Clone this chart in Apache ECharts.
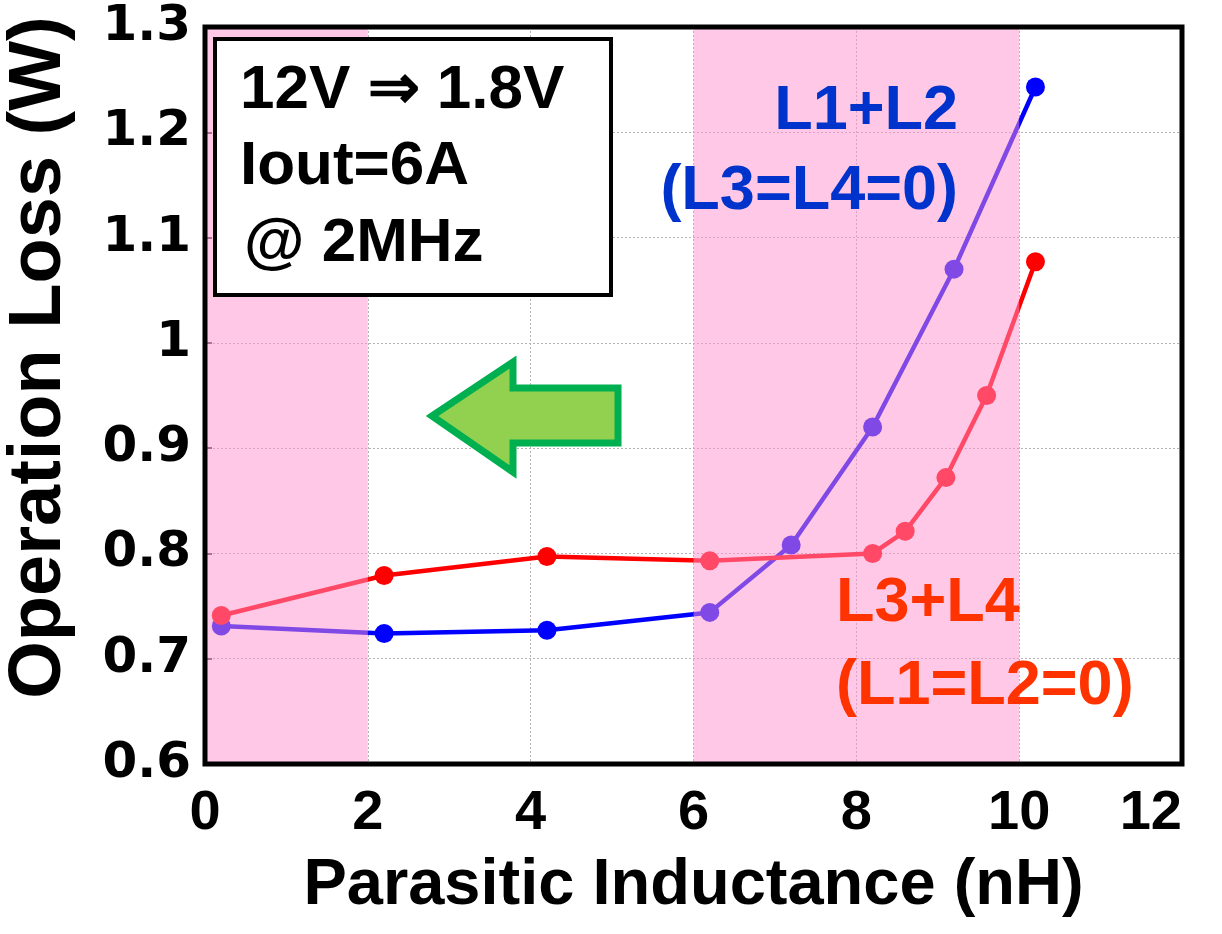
<!DOCTYPE html>
<html>
<head>
<meta charset="utf-8">
<script src="https://cdn.jsdelivr.net/npm/echarts@6/dist/echarts.min.js"></script>
<style>
  html, body { margin: 0; padding: 0; background: #fff; }
  #chart { width: 1222px; height: 934px; }
</style>
</head>
<body>
<div id="chart"></div>
<script>
// parasitic inductance (nH) and operation loss (W)
var xL12 = [0.2, 2.2, 4.2, 6.2, 7.2, 8.2, 9.2, 10.2];
var lossL12 = [0.731, 0.724, 0.727, 0.744, 0.808, 0.920, 1.070, 1.243];
var xL34 = [0.2, 2.2, 4.2, 6.2, 8.2, 8.6, 9.1, 9.6, 10.2];
var lossL34 = [0.741, 0.779, 0.797, 0.793, 0.800, 0.821, 0.872, 0.950, 1.077];

// shaded ranges (nH)
var bandFrom = [0, 6];
var bandTo = [2, 10];

var chart = echarts.init(document.getElementById('chart'));

function pairs(xs, ys) {
  return xs.map(function (x, i) { return [x, ys[i]]; });
}

var bands = bandFrom.map(function (f, i) {
  return [{ xAxis: f }, { xAxis: bandTo[i] }];
});

var bold = 'bold';
var arial = '"Liberation Sans", Arial, sans-serif';

var option = {
  animation: false,
  backgroundColor: '#fff',
  grid: {
    left: 205, right: 40, top: 27, bottom: 170, z: 15,
    outerBoundsMode: 'none', containLabel: false,
    show: true, borderColor: '#000', borderWidth: 5, backgroundColor: 'transparent'
  },
  xAxis: {
    type: 'value', min: 0, max: 12, interval: 2,
    name: 'Parasitic Inductance (nH)',
    nameLocation: 'middle', nameGap: 90,
    nameTextStyle: { fontSize: 65, fontWeight: bold, color: '#000', fontFamily: arial },
    axisLine: { show: false },
    axisTick: { show: false },
    axisLabel: { fontSize: 56, fontWeight: bold, color: '#000', margin: 22,
      fontFamily: arial, alignMaxLabel: 'right' },
    splitLine: { show: true, lineStyle: { color: '#b4b4b4', width: 1, type: [2, 2] } }
  },
  yAxis: {
    type: 'value', min: 0.6, max: 1.3, interval: 0.1,
    name: 'Operation Loss (W)',
    nameLocation: 'middle', nameGap: 128,
    nameTextStyle: { fontSize: 74, fontWeight: bold, color: '#000', fontFamily: arial,
      padding: [0, 0, 0, 76] },
    axisLine: { show: false },
    axisTick: { show: true, inside: true, length: 7, lineStyle: { color: '#555', width: 2 } },
    axisLabel: { fontSize: 50, fontWeight: bold, color: '#000', margin: 14,
      fontFamily: '"DejaVu Sans", sans-serif' },
    splitLine: { show: true, lineStyle: { color: '#b4b4b4', width: 1, type: [2, 2] } }
  },
  series: [
    {
      name: 'L1+L2', type: 'line', z: 2,
      data: pairs(xL12, lossL12),
      symbol: 'circle', symbolSize: 19,
      lineStyle: { color: '#0000ff', width: 4.5 },
      itemStyle: { color: '#0000ff' }
    },
    {
      name: 'L3+L4', type: 'line', z: 2,
      data: pairs(xL34, lossL34),
      symbol: 'circle', symbolSize: 19,
      lineStyle: { color: '#ff0000', width: 4.5 },
      itemStyle: { color: '#ff0000' }
    },
    {
      name: 'bands', type: 'line', data: [], silent: true,
      markArea: {
        z: 10, silent: true,
        itemStyle: { color: 'rgba(255,145,205,0.5)' },
        data: bands
      }
    }
  ],
  graphic: [
    {
      type: 'rect', z: 20,
      shape: { x: 215, y: 39, width: 396, height: 256 },
      style: { fill: '#fff', stroke: '#000', lineWidth: 4 }
    },
    { type: 'text', z: 21, x: 240, y: 91,
      style: { text: '12V \u21D2 1.8V', fontSize: 62, fontWeight: bold, fontFamily: arial,
        fill: '#000', verticalAlign: 'middle' } },
    { type: 'text', z: 21, x: 240, y: 167,
      style: { text: 'Iout=6A', fontSize: 62, fontWeight: bold, fontFamily: arial,
        fill: '#000', verticalAlign: 'middle' } },
    { type: 'text', z: 21, x: 244, y: 244,
      style: { text: '@ 2MHz', fontSize: 62, fontWeight: bold, fontFamily: arial,
        fill: '#000', verticalAlign: 'middle' } },
    {
      type: 'polygon', z: 20,
      shape: { points: [[432, 416], [513, 362], [513, 388], [618, 388], [618, 443], [513, 443], [513, 472]] },
      style: { fill: '#92d050', stroke: '#00b050', lineWidth: 7, lineJoin: 'miter' }
    },
    { type: 'text', z: 21, x: 958, y: 112,
      style: { text: 'L1+L2', fontSize: 63, fontWeight: bold, fontFamily: arial,
        fill: '#0033cc', align: 'right', verticalAlign: 'middle' } },
    { type: 'text', z: 21, x: 958, y: 192,
      style: { text: '(L3=L4=0)', fontSize: 63, fontWeight: bold, fontFamily: arial,
        fill: '#0033cc', align: 'right', verticalAlign: 'middle' } },
    { type: 'text', z: 21, x: 836, y: 604,
      style: { text: 'L3+L4', fontSize: 63, fontWeight: bold, fontFamily: arial,
        fill: '#ff3300', align: 'left', verticalAlign: 'middle' } },
    { type: 'text', z: 21, x: 836, y: 687,
      style: { text: '(L1=L2=0)', fontSize: 63, fontWeight: bold, fontFamily: arial,
        fill: '#ff3300', align: 'left', verticalAlign: 'middle' } }
  ]
};

chart.setOption(option);
</script>
</body>
</html>
